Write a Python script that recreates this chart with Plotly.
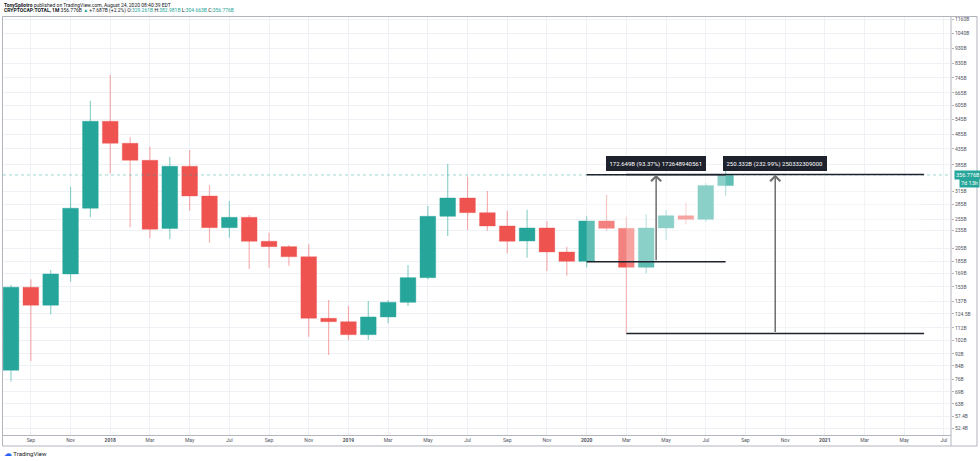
import math
import plotly.graph_objects as go

# CRYPTOCAP:TOTAL monthly candles, values in billions USD
months = [
    "2017-08", "2017-09", "2017-10", "2017-11", "2017-12",
    "2018-01", "2018-02", "2018-03", "2018-04", "2018-05", "2018-06",
    "2018-07", "2018-08", "2018-09", "2018-10", "2018-11", "2018-12",
    "2019-01", "2019-02", "2019-03", "2019-04", "2019-05", "2019-06",
    "2019-07", "2019-08", "2019-09", "2019-10", "2019-11", "2019-12",
    "2020-01", "2020-02", "2020-03", "2020-04", "2020-05", "2020-06",
    "2020-07", "2020-08",
]
opens = [
    81.3, 152.4, 133.0, 168.5, 277.3,
    535.8, 453.6, 398.8, 238.0, 381.0, 304.2,
    239.3, 258.9, 215.9, 207.3, 192.1, 120.5,
    117.4, 106.4, 121.7, 136.0, 163.9, 260.9,
    299.7, 268.1, 242.4, 216.4, 238.8, 199.1,
    185.5, 251.8, 238.2, 177.3, 238.8, 262.0,
    255.0, 329.261,
]
highs = [
    155.1, 161.9, 173.7, 326.5, 626.1,
    760.8, 474.7, 442.0, 409.8, 431.0, 330.7,
    293.0, 263.4, 230.4, 210.0, 211.1, 138.4,
    132.3, 137.4, 138.4, 180.4, 282.2, 387.7,
    352.2, 316.0, 272.2, 274.3, 251.8, 207.3,
    260.9, 307.2, 260.2, 264.9, 273.7, 289.2,
    335.0, 382.981,
]
lows = [
    74.6, 87.2, 124.2, 159.0, 258.9,
    361.3, 240.1, 220.9, 219.2, 272.2, 213.6,
    221.9, 175.0, 176.8, 179.5, 104.8, 91.2,
    102.2, 102.2, 116.0, 132.3, 161.9, 224.7,
    235.2, 233.9, 197.1, 190.7, 172.4, 166.4,
    177.3, 233.9, 107.44, 169.4, 218.0, 245.6,
    249.9, 304.663,
]
closes = [
    152.4, 133.0, 168.5, 277.3, 535.8,
    453.6, 398.8, 236.5, 381.0, 304.2, 239.3,
    258.9, 215.9, 207.3, 192.1, 120.5, 117.4,
    106.4, 121.7, 136.0, 163.9, 260.9, 299.7,
    268.1, 242.4, 215.9, 238.8, 199.1, 185.5,
    251.8, 238.2, 177.3, 238.8, 262.0, 255.0,
    329.261, 356.776,
]

tick_months = [
    "2017-09", "2017-11", "2018-01", "2018-03", "2018-05", "2018-07",
    "2018-09", "2018-11", "2019-01", "2019-03", "2019-05", "2019-07",
    "2019-09", "2019-11", "2020-01", "2020-03", "2020-05", "2020-07",
    "2020-09", "2020-11", "2021-01", "2021-03", "2021-05", "2021-07",
]
tick_labels = [
    "Sep", "Nov", "<b>2018</b>", "Mar", "May", "Jul",
    "Sep", "Nov", "<b>2019</b>", "Mar", "May", "Jul",
    "Sep", "Nov", "<b>2020</b>", "Mar", "May", "Jul",
    "Sep", "Nov", "<b>2021</b>", "Mar", "May", "Jul",
]

price_ticks = [1160, 1040, 930, 830, 745, 665, 605, 545, 485, 435, 385,
               315, 285, 255, 235, 205, 185, 169, 153, 137, 124.5, 112, 102,
               92, 84, 76, 69, 63, 57.4, 52.4]
price_tick_labels = ["1160B", "1040B", "930B", "830B", "745B", "665B", "605B",
                     "545B", "485B", "435B", "385B", "315B", "285B",
                     "255B", "235B", "205B", "185B", "169B", "153B", "137B",
                     "124.5B", "112B", "102B", "92B", "84B", "76B", "69B",
                     "63B", "57.4B", "52.4B"]

# price range drawings
range_starts = ["2020-01", "2020-03"]
range_ends = ["2020-08", "2021-06"]
range_lows = [184.9, 107.44]
range_moves = [172.649, 250.332]
range_pcts = [93.37, 232.99]
range_raw = ["172648940561", "250332309000"]

last_price = 356.776

UP = "#26a69a"
DOWN = "#ef5350"
UP_WICK = "rgba(38,166,154,0.5)"
DOWN_WICK = "rgba(239,83,80,0.45)"


def idx(month):
    y, m = (int(v) for v in month.split("-"))
    return (y - 2017) * 12 + m - 8


# pixel helpers for paper-positioned decorations
L, R, T, B = 3, 29, 14, 26
W, H = 980, 461
PW, PH = W - L - R, H - T - B


def px(x):
    return (x - L) / PW


def py(y):
    return 1 - (y - T) / PH


xs = [idx(m) for m in months]
is_up = [c >= o for o, c in zip(opens, closes)]

fig = go.Figure()

fig.add_trace(go.Bar(
    x=xs, base=lows, y=[h - l for h, l in zip(highs, lows)],
    width=0.06,
    marker=dict(color=[UP_WICK if u else DOWN_WICK for u in is_up], line_width=0),
    hoverinfo="skip",
))
fig.add_trace(go.Bar(
    x=xs, base=[min(o, c) for o, c in zip(opens, closes)],
    y=[abs(c - o) for o, c in zip(opens, closes)],
    width=0.79,
    marker=dict(
        color=[UP if u else DOWN for u in is_up],
        line=dict(color=[UP_WICK if u else DOWN_WICK for u in is_up], width=0.8),
    ),
))

shapes = []
# hide the strip of plot area above the chart frame
shapes.append(dict(type="rect", xref="paper", yref="paper", x0=0, x1=1,
                   y0=py(16.5), y1=1, fillcolor="white", line_width=0,
                   layer="above"))
# last price line
shapes.append(dict(type="line", xref="paper", x0=0, x1=1, yref="y",
                   y0=last_price, y1=last_price,
                   line=dict(color="rgba(38,166,154,0.45)", width=1, dash="dot")))

annotations = []
for s, e, lo, mv in zip(range_starts, range_ends, range_lows, range_moves):
    shapes.append(dict(type="rect", x0=idx(s), x1=idx(e), y0=lo, y1=lo + mv,
                       fillcolor="rgba(255,255,255,0.27)", line_width=0,
                       layer="above"))
for s, e, lo, mv, pct, raw in zip(range_starts, range_ends, range_lows,
                                  range_moves, range_pcts, range_raw):
    x0, x1 = idx(s), idx(e)
    hi = lo + mv
    for yy in (lo, hi):
        shapes.append(dict(type="line", x0=x0, x1=x1, y0=yy, y1=yy,
                           line=dict(color="#1e222d", width=1.5), layer="above"))
    xm = (x0 + x1) / 2
    annotations.append(dict(
        x=xm, y=math.log10(hi), ax=xm, ay=math.log10(lo),
        xref="x", yref="y", axref="x", ayref="y", text="",
        showarrow=True, arrowhead=4, arrowsize=1.3, arrowwidth=1.5,
        arrowcolor="#6f6f6f",
    ))
    annotations.append(dict(
        x=xm, y=math.log10(hi), xref="x", yref="y", yanchor="bottom", yshift=4,
        text=f"{mv:.3f}B ({pct:.2f}%) {raw}", showarrow=False,
        font=dict(size=6, color="white", family="Roboto"),
        bgcolor="#1e222d", bordercolor="#1e222d", borderpad=2.5,
    ))

# price labels on the scale
annotations.append(dict(
    xref="paper", x=px(953.5), xanchor="left", yref="y", y=math.log10(last_price),
    text=f"{last_price:.3f}B", showarrow=False,
    font=dict(size=5.5, color="white", family="Roboto"),
    bgcolor=UP, borderpad=1,
))
annotations.append(dict(
    xref="paper", x=px(958.5), xanchor="left", yref="y", y=math.log10(last_price),
    yshift=-8.5, text="7d 13h", showarrow=False,
    font=dict(size=5.5, color="white", family="Roboto"),
    bgcolor=UP, borderpad=1,
))

# header
annotations.append(dict(
    xref="paper", yref="paper", x=px(1.5), y=py(5), xanchor="left", yanchor="middle",
    text="<b>TonySpilotro</b> published on TradingView.com, August 24, 2020 08:40:39 EDT",
    showarrow=False, font=dict(size=5, color="#131722", family="Roboto"),
))
teal = "<span style='color:#26a69a'>"
annotations.append(dict(
    xref="paper", yref="paper", x=px(1.5), y=py(11), xanchor="left", yanchor="middle",
    text=("<b>CRYPTOCAP:TOTAL, 1M</b> 356.776B " + teal + "▲</span> +7.687B (+2.2%) "
          "O:" + teal + "329.261B</span> H:" + teal + "382.981B</span> "
          "L:" + teal + "304.663B</span> C:" + teal + "356.776B</span>"),
    showarrow=False, font=dict(size=5, color="#131722", family="Roboto"),
))

# TradingView footer
annotations.append(dict(
    xref="paper", yref="paper", x=px(2), y=py(454), xanchor="left", yanchor="middle",
    text="<span style='color:#2962ff;font-size:8px'>☁</span> TradingView", showarrow=False,
    font=dict(size=6, color="#131722", family="Roboto"),
))

# chart frame
frame = "#b2b5be"
shapes += [
    dict(type="line", xref="paper", yref="paper", x0=px(2.5), x1=px(2.5),
         y0=py(16.5), y1=py(446), line=dict(color=frame, width=1)),
    dict(type="line", xref="paper", yref="paper", x0=px(2.5), x1=px(977),
         y0=py(16.5), y1=py(16.5), line=dict(color=frame, width=1)),
    dict(type="line", xref="paper", yref="paper", x0=px(977), x1=px(977),
         y0=py(16.5), y1=py(446), line=dict(color=frame, width=1)),
    dict(type="line", xref="paper", yref="paper", x0=px(2.5), x1=px(977),
         y0=py(446), y1=py(446), line=dict(color=frame, width=1)),
    dict(type="line", xref="paper", yref="paper", x0=1, x1=1,
         y0=py(16.5), y1=py(446), line=dict(color=frame, width=1)),
]

fig.update_layout(
    width=W, height=H,
    margin=dict(l=L, r=R, t=T, b=B),
    paper_bgcolor="white", plot_bgcolor="white",
    barmode="overlay", showlegend=False,
    shapes=shapes, annotations=annotations,
    font=dict(family="Roboto", color="#50535e"),
    xaxis=dict(
        range=[-0.403, 47.355], tickmode="array",
        tickvals=[idx(m) for m in tick_months], ticktext=tick_labels,
        showgrid=True, gridcolor="#eef1f6", gridwidth=1,
        showline=True, linecolor=frame, linewidth=1,
        ticks="", tickfont=dict(size=5, color="#50535e"), zeroline=False,
    ),
    yaxis=dict(
        type="log", side="right", range=[1.6970, 3.0819],
        tickmode="array", tickvals=price_ticks, ticktext=price_tick_labels,
        showgrid=True, gridcolor="#eef1f6", gridwidth=1,
        showline=False,
        ticks="outside", ticklen=2, tickcolor=frame,
        tickfont=dict(size=5, color="#50535e"), zeroline=False,
    ),
)

fig.write_html(
    "out.html",
    config={"displayModeBar": False},
    post_script="document.body.style.margin='0';document.body.style.overflow='hidden';",
)
